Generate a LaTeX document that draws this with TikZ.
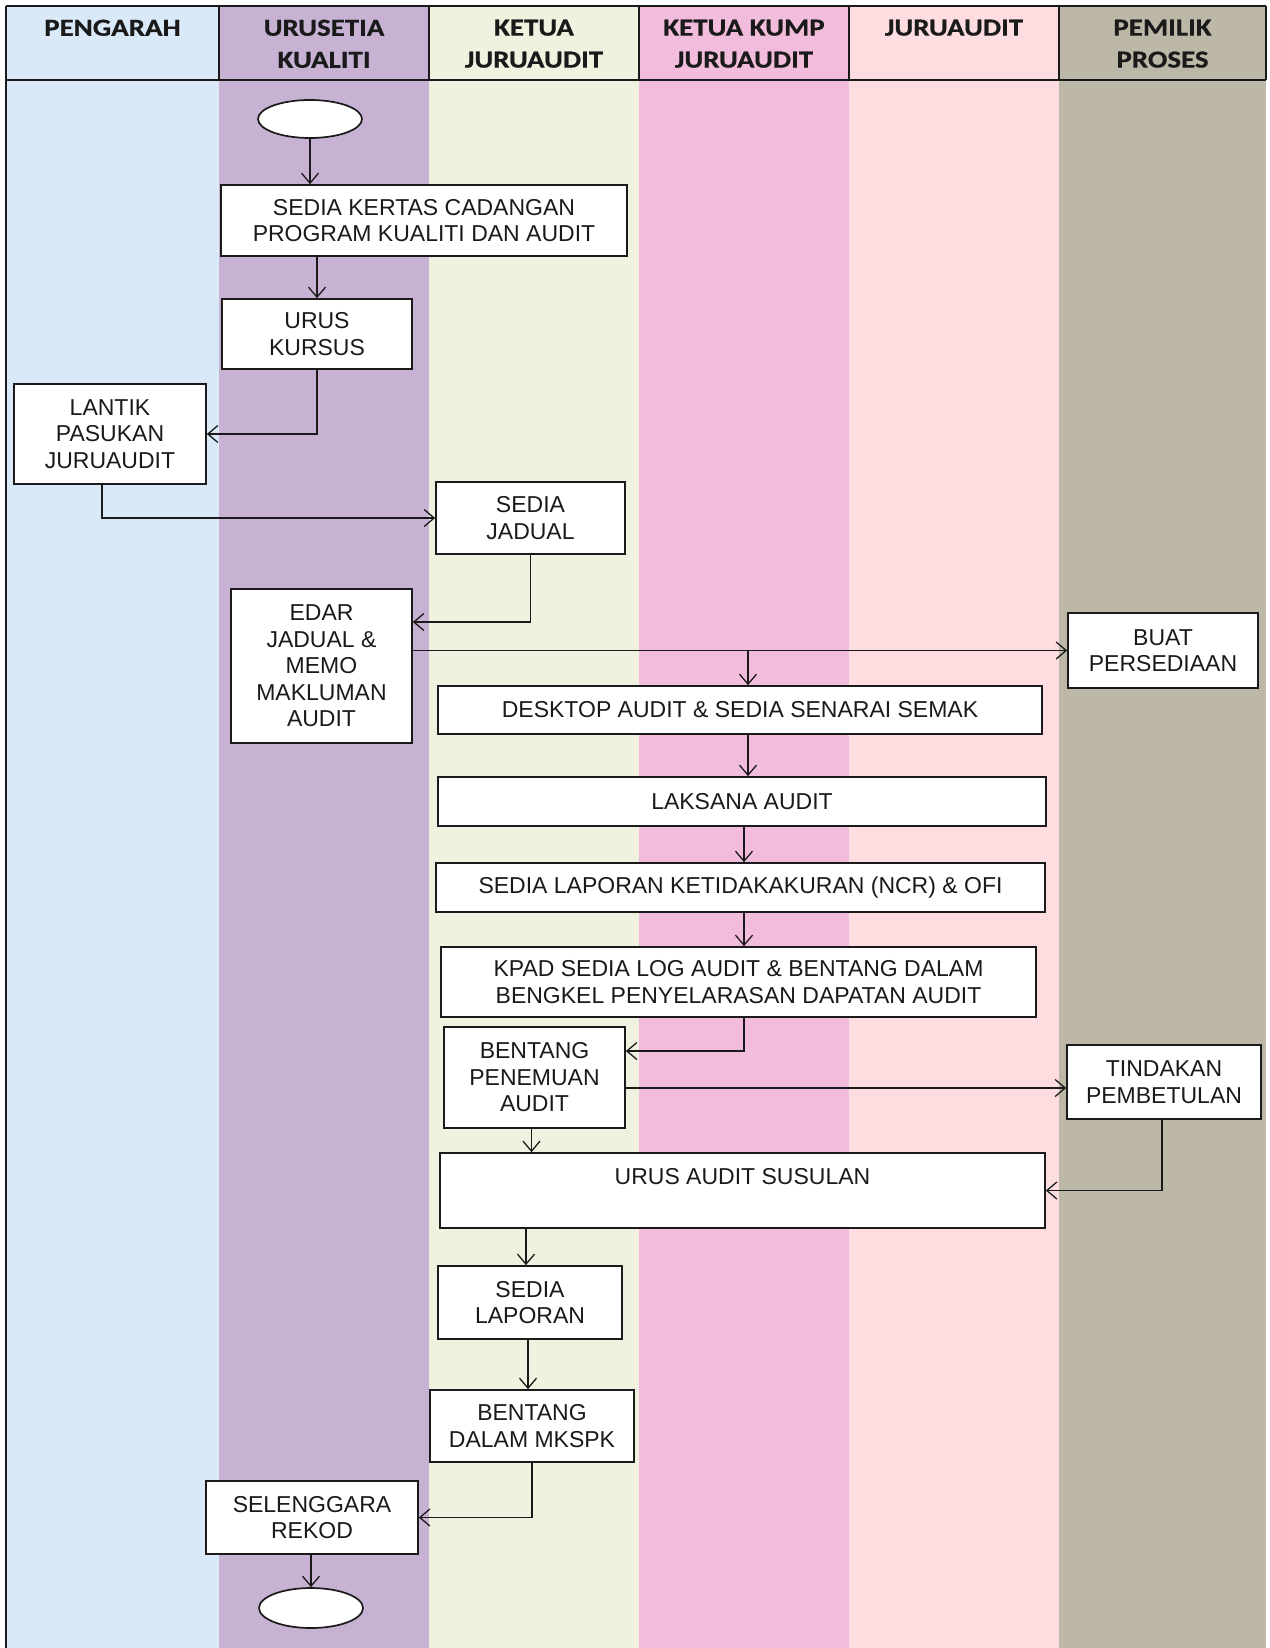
\documentclass[tikz,border=0pt]{standalone}
\usepackage{fontspec}
\setmainfont{Liberation Sans}
\newfontfamily\hdrfont{Carlito}[FakeStretch=1.18,FakeBold=0.6]
\usetikzlibrary{arrows.meta,shapes.geometric}
\definecolor{laneA}{HTML}{DAE9F8}
\definecolor{laneB}{HTML}{C7B2D3}
\definecolor{laneC}{HTML}{F1F1E0}
\definecolor{laneD}{HTML}{F2BDDC}
\definecolor{laneE}{HTML}{FDDDE0}
\definecolor{laneF}{HTML}{BDB7A7}
\definecolor{ink}{HTML}{1A1A1A}
\tikzset{
  stepbox/.style={draw=ink, line width=1.7pt, fill=white, inner sep=0pt, align=center,
    text=ink, font=\fontsize{23}{26.5}\selectfont},
  termbox/.style={draw=ink, line width=1.7pt, fill=white, ellipse, inner sep=0pt},
  hdr/.style={anchor=north, inner sep=0pt, align=center, text=ink,
    font=\hdrfont\bfseries\fontsize{24.5}{32}\selectfont},
  flow/.style={draw=ink, line width=1.3pt, -{Straight Barb[length=10pt,width=17pt,line width=1.3pt]}},
  grid/.style={draw=ink, line width=1.5pt}
}
\begin{document}
\begin{tikzpicture}[x=1pt,y=-1pt]
\useasboundingbox (0,0) rectangle (1269,1648);
\fill[white] (0,0) rectangle (1269,1648);
% lanes
\fill[laneA] (6,6) rectangle (219,1648);
\fill[laneB] (219,6) rectangle (429,1648);
\fill[laneC] (429,6) rectangle (639,1648);
\fill[laneD] (639,6) rectangle (849,1648);
\fill[laneE] (849,6) rectangle (1059,1648);
\fill[laneF] (1059,6) rectangle (1266,1648);
% header grid
\draw[grid] (6,6) -- (1266,6);
\draw[grid] (6,80) -- (1266,80);
\draw[grid] (6,6) -- (6,1648);
\foreach \xx in {219,429,639,849,1059,1266} \draw[grid] (\xx,6) -- (\xx,80);
% header texts
\node[hdr] (h1) at (112.5,19.5) {PENGARAH};
\node[hdr] (h2) at (324,19.5) {URUSETIA\\KUALITI};
\node[hdr] (h3) at (534,19.5) {KETUA\\JURUAUDIT};
\node[hdr] (h4) at (744,19.5) {KETUA KUMP\\JURUAUDIT};
\node[hdr] (h5) at (954,19.5) {JURUAUDIT};
\node[hdr] (h6) at (1162.5,19.5) {PEMILIK\\PROSES};

% nodes
\node[termbox, minimum width=104pt, minimum height=38pt] (start) at (310,119) {};
\node[stepbox, minimum width=406pt, minimum height=71pt] (b1) at (424,220.5) {SEDIA KERTAS CADANGAN\\PROGRAM KUALITI DAN AUDIT};
\node[stepbox, minimum width=190pt, minimum height=70pt] (b2) at (317,334) {URUS\\KURSUS};
\node[stepbox, minimum width=192pt, minimum height=100pt] (b3) at (110,434) {LANTIK\\PASUKAN\\JURUAUDIT};
\node[stepbox, minimum width=189pt, minimum height=72pt] (b4) at (530.5,518) {SEDIA\\JADUAL};
\node[stepbox, minimum width=181pt, minimum height=154pt] (b5) at (321.5,666) {EDAR\\JADUAL \&\\MEMO\\MAKLUMAN\\AUDIT};
\node[stepbox, minimum width=190pt, minimum height=75pt] (buat) at (1163,650.5) {BUAT\\PERSEDIAAN};
\node[stepbox, minimum width=604pt, minimum height=48pt] (b6) at (740,710) {DESKTOP AUDIT \& SEDIA SENARAI SEMAK};
\node[stepbox, minimum width=608pt, minimum height=49pt] (b7) at (742,801.5) {LAKSANA AUDIT};
\node[stepbox, minimum width=609pt, minimum height=49pt] (b8) at (740.5,887.5) {SEDIA LAPORAN KETIDAKAKURAN (NCR) \& OFI};
\node[stepbox, minimum width=595pt, minimum height=70pt] (b9) at (738.5,982) {KPAD SEDIA LOG AUDIT \& BENTANG DALAM\\BENGKEL PENYELARASAN DAPATAN AUDIT};
\node[stepbox, minimum width=181pt, minimum height=101pt] (b10) at (534.5,1077.5) {BENTANG\\PENEMUAN\\AUDIT};
\node[stepbox, minimum width=194pt, minimum height=74pt] (tind) at (1164,1082) {TINDAKAN\\PEMBETULAN};
\node[stepbox, minimum width=605pt, minimum height=75pt] (b11) at (742.5,1190.5) {URUS AUDIT SUSULAN\\[-6pt]\strut};
\node[stepbox, minimum width=184pt, minimum height=73pt] (b12) at (530,1302.5) {SEDIA\\LAPORAN};
\node[stepbox, minimum width=204pt, minimum height=72pt] (b13) at (532,1426) {BENTANG\\DALAM MKSPK};
\node[stepbox, minimum width=212pt, minimum height=73pt] (b14) at (312,1517.5) {SELENGGARA\\REKOD};
\node[termbox, minimum width=104pt, minimum height=40pt] (end) at (311,1608) {};

\coordinate (br) at (748,650);

% connectors
\draw[flow] (start.south) -- (start.south |- b1.north);
\draw[flow] (b2.north |- b1.south) -- (b2.north);
\draw[flow] (b2.south) |- (b3.east);
\draw[flow] ([xshift=-8pt]b3.south) |- (b4.west);
\draw[flow] (b4.south) |- (b5.east |- 0,622);
\draw[flow] (b5.east |- buat.west) -- (buat.west);
\draw[flow] (br) -- (br |- b6.north);
\draw[flow] (b6.south -| br) -- (b7.north -| br);
\draw[flow] (b7.south -| 744,0) -- (b8.north -| 744,0);
\draw[flow] (b8.south -| 744,0) -- (b9.north -| 744,0);
\draw[flow] (b9.south -| 744,0) |- (b10.east |- 0,1051);
\draw[flow] (b10.east |- 0,1088) -- (tind.west |- 0,1088);
\draw[flow] ([xshift=-2pt]tind.south) |- (b11.east);
\draw[flow] ([xshift=-3pt]b10.south) -- ([xshift=-3pt]b10.south |- b11.north);
\draw[flow] ([xshift=-4pt]b12.north |- b11.south) -- ([xshift=-4pt]b12.north);
\draw[flow] ([xshift=-2pt]b12.south) -- ([xshift=-2pt]b12.south |- b13.north);
\draw[flow] (b13.south) |- (b14.east);
\draw[flow] (end.north |- b14.south) -- (end.north);
\end{tikzpicture}
\end{document}
